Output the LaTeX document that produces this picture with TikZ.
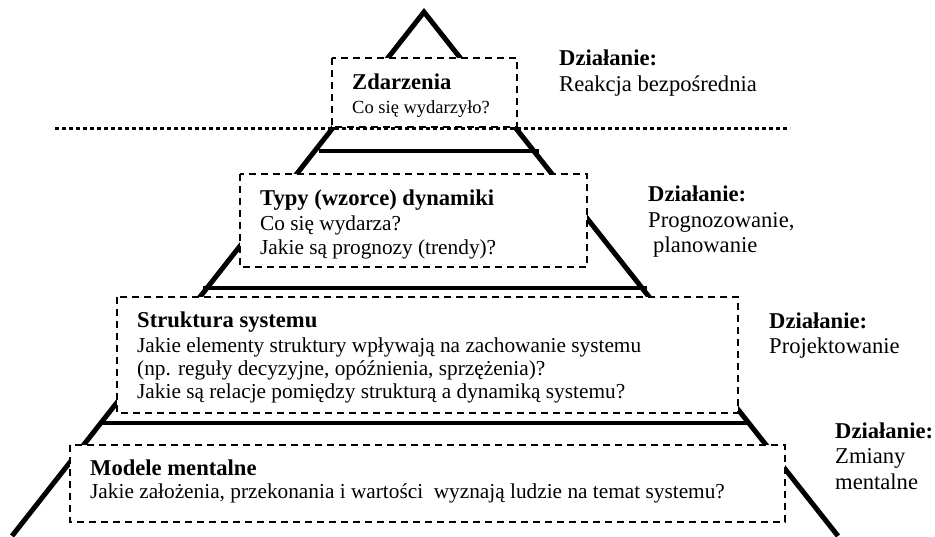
\documentclass[tikz,border=0pt]{standalone}
\usepackage{fontspec}
\setmainfont{Liberation Serif}
\begin{document}
\begin{tikzpicture}[x=1pt,y=-1pt,
  side/.style={line width=5pt, line join=miter},
  shelf/.style={line width=4pt},
  box/.style={draw, fill=white, line width=1.6pt, dash pattern=on 7pt off 5pt},
  sep/.style={line width=3pt, dash pattern=on 4pt off 3pt},
  ttl/.style={font=\fontsize{22.6}{26}\selectfont\bfseries, anchor=base west, inner sep=0pt},
  txt/.style={font=\fontsize{21.3}{24}\selectfont, anchor=base west, inner sep=0pt},
  sml/.style={font=\fontsize{18.5}{21}\selectfont, anchor=base west, inner sep=0pt},
  act/.style={font=\fontsize{22.6}{26}\selectfont, anchor=base west, inner sep=0pt},
]
\useasboundingbox (0,0) rectangle (935,536);
% pyramid sides
\coordinate (apex) at (424,12);
\coordinate (bl) at (12,536);
\coordinate (br) at (838,536);
\draw[side] (bl) -- (apex) -- (br);
% shelves
\coordinate (s1a) at (319,150.5); \coordinate (s1b) at (539,150.5);
\coordinate (s2a) at (203,288);   \coordinate (s2b) at (647,288);
\coordinate (s3a) at (100,423);   \coordinate (s3b) at (747,423);
\draw[shelf] (s1a) -- (s1b);
\draw[shelf] (s2a) -- (s2b);
\draw[shelf] (s3a) -- (s3b);
% boxes
\draw[box] (332,58) rectangle (517,127);
\draw[box] (240,174) rectangle (587,267);
\draw[box] (117,297) rectangle (738,413);
\draw[box] (70,445) rectangle (785,522);
% dotted separator
\coordinate (d1) at (55,128); \coordinate (d2) at (790,128);
\draw[sep] (d1) -- (d2);
% box texts
\node[ttl] (z1) at (352,89) {Zdarzenia};
\node[sml] (z2) at (352,113) {Co się wydarzyło?};
\node[ttl] (t1) at (260,205) {Typy (wzorce) dynamiki};
\node[txt] (t2) at (260,230) {Co się wydarza?};
\node[txt] (t3) at (260,254) {Jakie są prognozy (trendy)?};
\node[ttl] (k1) at (137,327) {Struktura systemu};
\node[txt] (k2) at (137,352) {Jakie elementy struktury wpływają na zachowanie systemu};
\node[txt] (k3) at (137,375) {(np. reguły decyzyjne, opóźnienia, sprzężenia)?};
\node[txt] (k4) at (137,398) {Jakie są relacje pomiędzy strukturą a dynamiką systemu?};
\node[ttl] (m1) at (90,475) {Modele mentalne};
\node[txt] (m2) at (90,498) {Jakie założenia, przekonania i wartości\ \ wyznają ludzie na temat systemu?};
% action labels
\node[ttl] (a1) at (559,65) {Działanie:};
\node[act] (a1b) at (559,91) {Reakcja bezpośrednia};
\node[ttl] (a2) at (648,201) {Działanie:};
\node[act] (a2b) at (648,227) {Prognozowanie,};
\node[act] (a2c) at (653,252) {planowanie};
\node[ttl] (a3) at (769,328) {Działanie:};
\node[act] (a3b) at (769,353) {Projektowanie};
\node[ttl] (a4) at (835,438) {Działanie:};
\node[act] (a4b) at (835,463) {Zmiany};
\node[act] (a4c) at (835,489) {mentalne};
\end{tikzpicture}
\end{document}
